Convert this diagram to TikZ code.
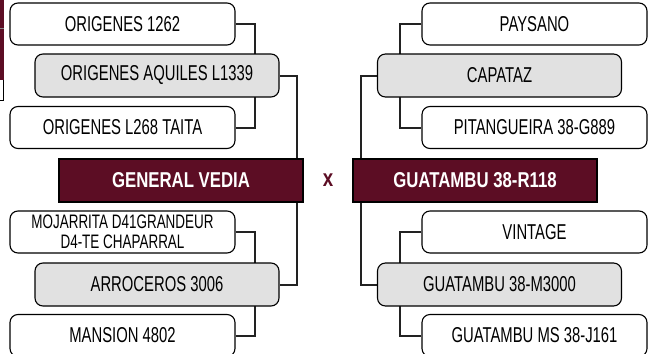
\documentclass[tikz,border=0pt]{standalone}
\usepackage{fontspec}
\setmainfont{Liberation Sans}[FakeStretch=0.69]
\newfontfamily\titlefont{Liberation Sans}[FakeStretch=0.78]
\usetikzlibrary{backgrounds}
\definecolor{vino}{RGB}{92,13,36}
\definecolor{gris}{RGB}{225,225,225}
\definecolor{linea}{RGB}{34,34,34}

\begin{document}
\begin{tikzpicture}[x=1pt, y=-1pt,
		abuelo/.style={draw=black, line width=1.1pt, rounded corners=8pt, fill=white, minimum width=225pt, minimum height=42pt, inner sep=0pt, align=center, font=\fontsize{21.5}{17}\selectfont},
		padre/.style={abuelo, fill=gris, minimum width=244pt, minimum height=43pt},
		toro/.style={draw=black, line width=1.1pt, fill=vino, text=white, minimum width=244pt, minimum height=43pt, inner sep=0pt, font=\titlefont\bfseries\fontsize{21.5}{22}\selectfont},
		rama/.style={draw=linea, line width=2pt}]
		
		\useasboundingbox (0,0) rectangle (652,353);
		% resto de otra ficha, cortado al borde
		\fill[vino] (0,0) rectangle (3.5,80);
		\draw[gris!60!black, line width=0.6pt] (0,28) -- (3.5,28);
		\draw[black, line width=0.6pt] (3.5,80) -- (3.5,100) -- (0,100);
		
		% lado izquierdo
		\node[abuelo] (o1) at (122.5, 24) {ORIGENES 1262};
		\node[padre] (o2) at (157, 75.5) {ORIGENES AQUILES L1339};
		\node[abuelo] (o3) at (122.5, 127.5) {ORIGENES L268 TAITA};
		\node[toro] (gv) at (181, 180.5) {GENERAL VEDIA};
		\node[abuelo, font=\fontsize{19.5}{19.5}\selectfont] (m1) at (122.5, 232) {MOJARRITA D41GRANDEUR\\D4-TE CHAPARRAL};
		\node[padre] (a2) at (157, 284.5) {ARROCEROS 3006};
		\node[abuelo] (m3) at (122.5, 335.5) {MANSION 4802};
		
		% lado derecho
		\node[abuelo] (p1) at (534.5, 24) {PAYSANO};
		\node[padre] (c2) at (499.5, 75.5) {CAPATAZ};
		\node[abuelo] (p3) at (534.5, 127.5) {PITANGUEIRA 38-G889};
		\node[toro] (gt) at (475, 180.5) {GUATAMBU 38-R118};
		\node[abuelo] (v1) at (534.5, 232) {VINTAGE};
		\node[padre] (g2) at (499.5, 284.5) {GUATAMBU 38-M3000};
		\node[abuelo] (j3) at (534.5, 335.5) {GUATAMBU MS 38-J161};
		
		\node[text=vino, font=\titlefont\bfseries\fontsize{24}{24}\selectfont] (cruza) at (328, 180) {x};
		
		\begin{scope}[on background layer]
		\draw[rama] (o1.east) -- ++(19,0) |- (o3.east);
		\draw[rama] (m1.east) -- ++(19,0) |- (m3.east);
		\draw[rama] (o2.east) -- ++(17,0) |- (a2.east);
		\draw[rama] (p1.west) -- ++(-21,0) |- (p3.west);
		\draw[rama] (v1.west) -- ++(-21,0) |- (j3.west);
		\draw[rama] (c2.west) -- ++(-16,0) |- (g2.west);
		\end{scope}
		\end{tikzpicture}
\end{document}
